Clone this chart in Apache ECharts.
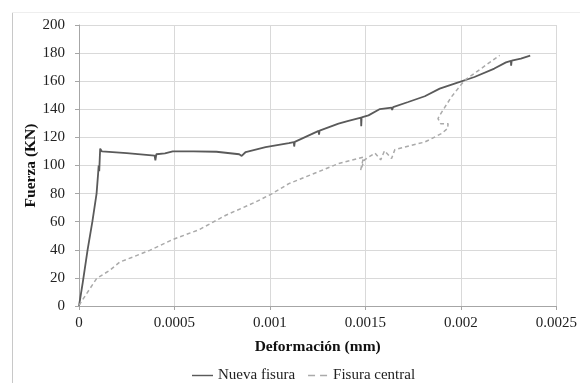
<!DOCTYPE html>
<html>
<head>
<meta charset="utf-8">
<script src="https://cdn.jsdelivr.net/npm/echarts@6/dist/echarts.min.js"></script>
<style>
  html, body { margin: 0; padding: 0; background: #fff; }
  #chart { width: 580px; height: 383px; }
</style>
</head>
<body>
<div id="chart"></div>
<script>
// Nueva fisura: [deformación, fuerza]
const nuevaFisura = [
  [0, 0], [0.00002, 17], [0.000045, 40], [0.00007, 60], [0.000092, 80],
  [0.0001, 94], [0.000103, 100], [0.000106, 96], [0.000109, 106], [0.000111, 112],
  [0.00012, 110], [0.00025, 108.8], [0.000396, 107], [0.0004, 103.7], [0.000405, 108],
  [0.00045, 108.6], [0.000491, 110], [0.0006, 110], [0.00072, 109.8], [0.000839, 108],
  [0.000852, 106.8], [0.000873, 109.6], [0.000977, 113], [0.001099, 116],
  [0.001125, 116.7], [0.001127, 113.5], [0.00113, 116.8], [0.001255, 124.6], [0.001257, 122],
  [0.00126, 124.8], [0.001359, 129.8], [0.001411, 131.7], [0.001477, 134], [0.001478, 128],
  [0.00148, 134.2], [0.001516, 135.7], [0.001576, 140.2], [0.001637, 141.2], [0.00164, 139.5],
  [0.001645, 141.6], [0.001724, 145.2], [0.001811, 149.3], [0.001889, 154.7], [0.001967, 158.3],
  [0.002071, 163], [0.002175, 169], [0.002236, 173.4], [0.002262, 174.5], [0.002263, 171],
  [0.002266, 174.7], [0.002314, 176.1], [0.002363, 178.2]
]

// Fisura central: [deformación, fuerza]
const fisuraCentral = [
  [0, 0.5], [0.00004, 8.8], [0.000092, 19.5], [0.000161, 25.4], [0.000214, 31.3],
  [0.000283, 34.9], [0.00037, 39.6], [0.000491, 47.3], [0.00063, 54.4], [0.000769, 64.6],
  [0.000925, 74], [0.001012, 80], [0.001099, 87.1], [0.001273, 96.6], [0.001359, 101.4],
  [0.00149, 106], [0.001475, 96.6], [0.001495, 104], [0.00155, 108.9], [0.00158, 104],
  [0.0016, 110.5], [0.001637, 105], [0.001654, 111.3], [0.001707, 113.2], [0.001811, 116.7],
  [0.001898, 122.7], [0.00193, 126.3], [0.001933, 129.8], [0.001894, 129.8], [0.00188, 133.4],
  [0.001889, 135.7], [0.00195, 148.8], [0.002019, 160.6], [0.002106, 169], [0.002203, 178.4]
]

const xTicks = [0, 0.0005, 0.001, 0.0015, 0.002, 0.0025]
const seriesNames = ['Nueva fisura', 'Fisura central']

const serif = '"Liberation Serif", "DejaVu Serif", serif'
const chart = echarts.init(document.getElementById('chart'))

chart.setOption({
  backgroundColor: '#fff',
  animation: false,
  graphic: [
    {
      type: 'line',
      shape: { x1: 12.5, y1: 12, x2: 12.5, y2: 383 },
      style: { stroke: '#c8c8c8', lineWidth: 1 }
    },
    {
      type: 'line',
      shape: { x1: 12, y1: 12.5, x2: 580, y2: 12.5 },
      style: { stroke: '#eeeeee', lineWidth: 1 }
    }
  ],
  grid: { left: 79, right: 21, top: 25, bottom: 77 },
  legend: {
    left: 187,
    top: 363,
    itemWidth: 21,
    itemHeight: 1.5,
    itemGap: 13,
    textStyle: { fontFamily: serif, fontSize: 15, color: '#222' },
    data: [
      { name: seriesNames[0], icon: 'path://M0,0H22V1.5H0Z' },
      { name: seriesNames[1], icon: 'path://M0,0H7V1.5H0Z M12,0H19V1.5H12Z' }
    ]
  },
  xAxis: {
    type: 'value',
    min: 0,
    max: 0.0025,
    interval: 0.0005,
    name: 'Deformación (mm)',
    nameLocation: 'middle',
    nameGap: 33,
    nameTextStyle: { fontFamily: serif, fontSize: 15.5, fontWeight: 'bold', color: '#111' },
    axisLine: { lineStyle: { color: '#a6a6a6' } },
    axisTick: { show: true, length: 4, lineStyle: { color: '#a6a6a6' } },
    axisLabel: {
      fontFamily: serif, fontSize: 15, color: '#222', margin: 10,
      formatter: v => {
        const t = xTicks.find(x => Math.abs(x - v) < 1e-9)
        return String(t !== undefined ? t : +v.toFixed(4))
      }
    },
    splitLine: { show: true, lineStyle: { color: '#d9d9d9' } }
  },
  yAxis: {
    type: 'value',
    min: 0,
    max: 200,
    interval: 20,
    name: 'Fuerza (KN)',
    nameLocation: 'middle',
    nameGap: 40,
    nameMoveOverlap: false,
    nameTextStyle: { fontFamily: serif, fontSize: 15.5, fontWeight: 'bold', color: '#111' },
    axisLine: { show: true, lineStyle: { color: '#a6a6a6' } },
    axisTick: { show: true, length: 4, lineStyle: { color: '#a6a6a6' } },
    axisLabel: { fontFamily: serif, fontSize: 15, color: '#222', margin: 14 },
    splitLine: { show: true, lineStyle: { color: '#d9d9d9' } }
  },
  series: [
    {
      name: seriesNames[0],
      type: 'line',
      data: nuevaFisura,
      symbol: 'none',
      lineStyle: { color: '#5a5a5a', width: 1.8 },
      itemStyle: { color: '#5a5a5a' }
    },
    {
      name: seriesNames[1],
      type: 'line',
      data: fisuraCentral,
      symbol: 'none',
      lineStyle: { color: '#aaaaaa', width: 1.5, type: [4, 3] },
      itemStyle: { color: '#aaaaaa' }
    }
  ]
})
</script>
</body>
</html>
